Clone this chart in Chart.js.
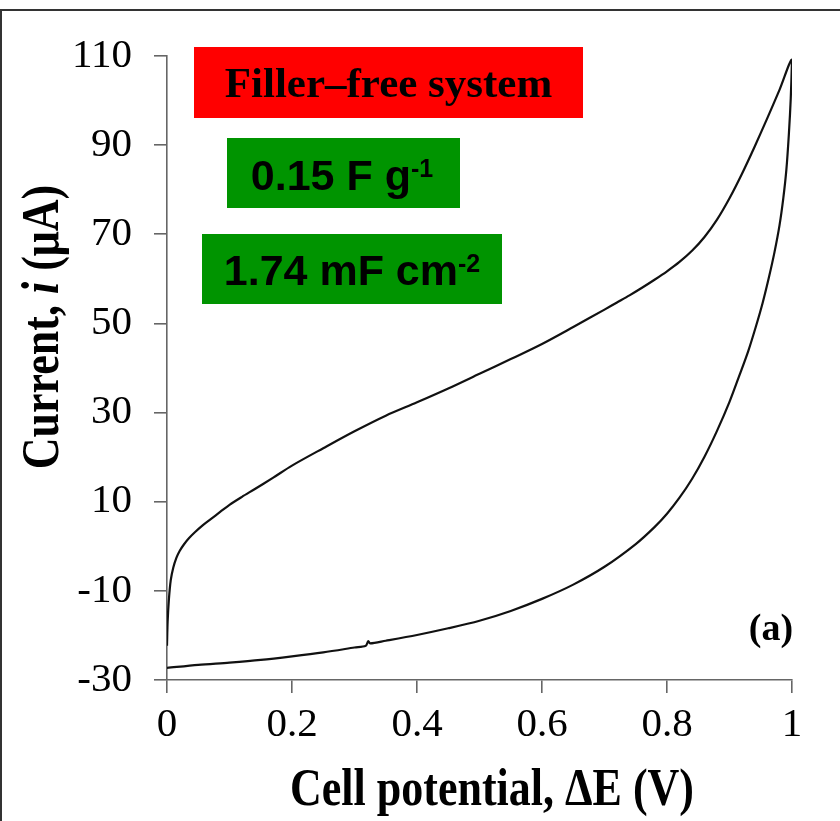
<!DOCTYPE html>
<html lang="en">
<head>
<meta charset="UTF-8">
<title>Cyclic voltammogram - filler-free system</title>
<script src="https://cdn.jsdelivr.net/npm/chart.js"></script>
<style>
    html, body { margin: 0; padding: 0; background: #fff; }
    #wrap { position: relative; width: 840px; height: 821px; overflow: hidden; }
    #frame {
        position: absolute; left: 0; top: 9px; width: 840px; height: 830px;
        border-top: 2px solid #333; border-left: 2px solid #333; box-sizing: border-box;
    }
    #chart { position: absolute; left: 0; top: 0; }
</style>
</head>
<body>
<div id="wrap">
    <div id="frame"></div>
    <canvas id="chart" width="840" height="821"></canvas>
</div>

<script>
// forward sweep (0 V -> 1 V)
const fwdX = [0, 0.001, 0.003, 0.006, 0.01, 0.015, 0.02, 0.027, 0.035, 0.045, 0.057, 0.07, 0.085, 0.1, 0.12,
    0.14, 0.17, 0.2, 0.25, 0.3, 0.35, 0.4, 0.45, 0.5, 0.55, 0.6, 0.65, 0.7, 0.72, 0.74, 0.76, 0.78, 0.8,
    0.82, 0.84, 0.86, 0.88, 0.9, 0.92, 0.94, 0.96, 0.98, 1];
const fwdY = [-22.3, -17, -12, -7.6, -4.8, -2.6, -1.1, 0.4, 1.8, 3.2, 4.7, 6.1, 7.7, 9.3, 11.1,
    12.8, 15.4, 18.1, 22, 25.8, 29.3, 32.3, 35.4, 38.7, 42, 45.4, 49.2, 53.1, 54.7, 56.3, 58, 59.8, 61.7,
    63.8, 66.3, 69.4, 73.3, 78.1, 83.6, 89.6, 95.9, 102.4, 109.2];

// reverse sweep (1 V -> 0 V)
const revX = [0.998, 0.995, 0.991, 0.986, 0.98, 0.972, 0.963, 0.953, 0.942, 0.93, 0.916, 0.9, 0.88, 0.86, 0.84,
    0.82, 0.8, 0.78, 0.75, 0.7, 0.65, 0.6, 0.55, 0.5, 0.45, 0.4, 0.35, 0.325, 0.322, 0.318, 0.3, 0.25, 0.2,
    0.15, 0.1, 0.05, 0];
const revY = [100.5, 92.5, 84.5, 78, 72, 66, 60.3, 54.6, 49.2, 43.8, 38.4, 32.4, 25.9, 20.1, 15.1,
    10.9, 7.3, 4.3, 0.5, -4.6, -8.6, -11.8, -14.5, -16.7, -18.4, -19.9, -21.2, -21.8, -21.3, -22.3, -22.7, -23.8, -24.7,
    -25.5, -26.1, -26.6, -27.3];

const xTicks = [0, 0.2, 0.4, 0.6, 0.8, 1];
const yTicks = [-30, -10, 10, 30, 50, 70, 90, 110];

const SERIF = "'Liberation Serif', 'Times New Roman', serif";
const SANS = "'Liberation Sans', Arial, sans-serif";

const points = fwdX.map((x, i) => ({ x: x, y: fwdY[i] }))
    .concat(revX.map((x, i) => ({ x: x, y: revY[i] })));

function drawSup(ctx, cx, baseY, main, sup, font, supFont, rise) {
    ctx.font = font;
    const w1 = ctx.measureText(main).width;
    ctx.font = supFont;
    const w2 = ctx.measureText(sup).width;
    const x = cx - (w1 + w2) / 2;
    ctx.font = font;
    ctx.fillText(main, x, baseY);
    ctx.font = supFont;
    ctx.fillText(sup, x + w1, baseY - rise);
}

// draws the axis titles (mixed bold / italic) and the label boxes
const overlay = {
    id: 'overlay',
    afterDraw(chart) {
        const ctx = chart.ctx;
        ctx.save();
        ctx.textBaseline = 'alphabetic';
        ctx.fillStyle = '#000';

        // x title
        ctx.save();
        ctx.translate(492, 805);
        ctx.scale(1, 1.18);
        ctx.textAlign = 'center';
        ctx.font = 'bold 44px ' + SERIF;
        ctx.fillText('Cell potential, ΔE (V)', 0, 0);
        ctx.restore();

        // y title
        ctx.save();
        ctx.translate(58, 327);
        ctx.rotate(-Math.PI / 2);
        ctx.scale(1, 1.18);
        ctx.textAlign = 'left';
        const parts = [['Current, ', 'bold'], ['i', 'italic bold'], [' (μA)', 'bold']];
        let total = 0;
        parts.forEach(p => { ctx.font = p[1] + ' 44px ' + SERIF; total += ctx.measureText(p[0]).width; });
        let px = -total / 2;
        parts.forEach(p => {
            ctx.font = p[1] + ' 44px ' + SERIF;
            ctx.fillText(p[0], px, 0);
            px += ctx.measureText(p[0]).width;
        });
        ctx.restore();

        // label boxes
        ctx.textAlign = 'center';
        ctx.fillStyle = '#ff0000';
        ctx.fillRect(194, 47, 389, 71);
        ctx.fillStyle = '#000';
        ctx.font = 'bold 43px ' + SERIF;
        ctx.fillText('Filler–free system', 388.5, 97);

        ctx.fillStyle = '#009400';
        ctx.fillRect(227, 138, 233, 70);
        ctx.fillRect(202, 234, 300, 70);
        ctx.fillStyle = '#000';
        ctx.textAlign = 'left';
        drawSup(ctx, 342, 190, '0.15 F g', '-1', 'bold 43px ' + SANS, 'bold 25px ' + SANS, 13);
        drawSup(ctx, 352, 285, '1.74 mF cm', '-2', 'bold 43px ' + SANS, 'bold 25px ' + SANS, 13);

        ctx.textAlign = 'center';
        ctx.font = 'bold 38px ' + SERIF;
        ctx.fillText('(a)', 771, 640);
        ctx.restore();
    }
};

new Chart(document.getElementById('chart'), {
    type: 'scatter',
    data: {
        datasets: [{
            data: points,
            showLine: true,
            borderColor: '#111',
            borderWidth: 2.2,
            pointRadius: 0,
            tension: 0.3
        }]
    },
    options: {
        responsive: false,
        animation: false,
        devicePixelRatio: 1,
        layout: { padding: { top: 56, right: 48, left: 0, bottom: 0 } },
        plugins: { legend: { display: false }, tooltip: { enabled: false } },
        scales: {
            x: {
                type: 'linear', min: 0, max: 1,
                afterBuildTicks: s => { s.ticks = xTicks.map(v => ({ value: v })); },
                afterFit: s => { s.height = 141; },
                ticks: {
                    color: '#000', padding: 8, maxRotation: 0,
                    font: { family: SERIF, size: 41 },
                    callback: v => String(+v.toFixed(1))
                },
                grid: { drawOnChartArea: false, tickLength: 13, tickColor: '#666', lineWidth: 1.6 },
                border: { color: '#666', width: 1.6 }
            },
            y: {
                type: 'linear', min: -30, max: 110,
                afterBuildTicks: s => { s.ticks = yTicks.map(v => ({ value: v })); },
                afterFit: s => { s.width = 167; },
                ticks: {
                    color: '#000', padding: 22,
                    font: { family: SERIF, size: 41 },
                    callback: v => String(v)
                },
                grid: { drawOnChartArea: false, tickLength: 13, tickColor: '#666', lineWidth: 1.6 },
                border: { color: '#666', width: 1.6 }
            }
        }
    },
    plugins: [overlay]
});
</script>
</body>
</html>
